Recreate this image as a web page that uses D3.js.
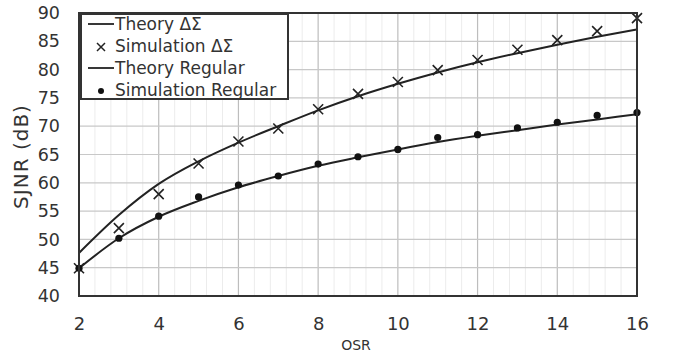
<!DOCTYPE html>
<html><head><meta charset="utf-8">
<script src="https://cdn.jsdelivr.net/npm/d3@7/dist/d3.min.js"></script>
<style>html,body{margin:0;padding:0;background:#fff;}svg{display:block;}</style>
</head><body><svg id="c" width="673" height="354"></svg>
<script>
const osr = [2,3,4,5,6,7,8,9,10,11,12,13,14,15,16];
const theoryDS = [47.6,54.3,59.8,63.8,67.1,70.0,72.8,75.3,77.5,79.5,81.3,82.9,84.4,85.8,87.1];
const simDS = [44.9,52.0,58.0,63.4,67.3,69.6,73.0,75.7,77.8,79.9,81.7,83.5,85.2,86.8,89.1];
const theoryReg = [44.9,50.2,54.0,56.8,59.2,61.2,63.0,64.5,65.9,67.2,68.3,69.3,70.3,71.2,72.1];
const simReg = [44.9,50.2,54.1,57.5,59.6,61.2,63.3,64.6,65.9,68.0,68.5,69.7,70.7,71.9,72.4];
const xTicks = [2,4,6,8,10,12,14,16];
const yTicks = [40,45,50,55,60,65,70,75,80,85,90];
const legendItems = [
  {label:"Theory ΔΣ", kind:"line"},
  {label:"Simulation ΔΣ", kind:"cross"},
  {label:"Theory Regular", kind:"line"},
  {label:"Simulation Regular", kind:"dot"}
];

const svg = d3.select("#c");
const L=79, R=637, T=13, B=296;
const x = d3.scaleLinear().domain([2,16]).range([L,R]);
const y = d3.scaleLinear().domain([40,90]).range([B,T]);
const font = "'DejaVu Sans', Verdana, sans-serif";
const txt = "#333";

// minor vertical grid
const minor = d3.range(2, 16.001, 0.4).filter(v => Math.abs(v/2 - Math.round(v/2)) > 0.01);
svg.append("g").selectAll("line").data(minor).join("line")
  .attr("x1", d=>x(d)).attr("x2", d=>x(d)).attr("y1", T).attr("y2", B)
  .attr("stroke", "#ececec").attr("stroke-width", 1);
// major grid
svg.append("g").selectAll("line").data(xTicks).join("line")
  .attr("x1", d=>x(d)).attr("x2", d=>x(d)).attr("y1", T).attr("y2", B)
  .attr("stroke", "#bdbdbd").attr("stroke-width", 1.2);
svg.append("g").selectAll("line").data(yTicks).join("line")
  .attr("x1", L).attr("x2", R).attr("y1", d=>y(d)).attr("y2", d=>y(d))
  .attr("stroke", "#c8c8c8").attr("stroke-width", 1.2);

// axes labels via d3 axes
const xAxis = svg.append("g").attr("transform", `translate(0,${B})`)
  .call(d3.axisBottom(x).tickValues(xTicks).tickSize(0).tickPadding(21));
xAxis.select(".domain").remove();
xAxis.selectAll("text").attr("font-family", font).attr("font-size", 18).attr("fill", txt);
const yAxis = svg.append("g").attr("transform", `translate(${L},0)`)
  .call(d3.axisLeft(y).tickValues(yTicks).tickSize(0).tickPadding(19));
yAxis.select(".domain").remove();
yAxis.selectAll("text").attr("font-family", font).attr("font-size", 17.5).attr("fill", txt);

svg.append("text").attr("x", (L+R)/2 - 2).attr("y", 350).attr("text-anchor","middle")
  .attr("font-family", font).attr("font-size", 14).attr("fill", txt).text("OSR");
svg.append("text").attr("transform", `translate(28,${(T+B)/2+2}) rotate(-90)`).attr("text-anchor","middle")
  .attr("font-family", font).attr("font-size", 20).attr("letter-spacing", 1).attr("fill", txt).text("SJNR (dB)");

// lines
const line = d3.line().x((d,i)=>x(osr[i])).y(d=>y(d)).curve(d3.curveMonotoneX);
svg.append("path").attr("d", line(theoryDS)).attr("fill","none").attr("stroke","#222").attr("stroke-width",2);
svg.append("path").attr("d", line(theoryReg)).attr("fill","none").attr("stroke","#222").attr("stroke-width",2);

// markers
const cs = 5;
const crossG = svg.append("g").selectAll("g").data(simDS).join("g")
  .attr("transform", (d,i)=>`translate(${x(osr[i])},${y(d)})`);
crossG.append("path").attr("d", `M${-cs},${-cs}L${cs},${cs}M${-cs},${cs}L${cs},${-cs}`)
  .attr("stroke","#222").attr("stroke-width",1.6).attr("fill","none");
svg.append("g").selectAll("circle").data(simReg).join("circle")
  .attr("cx",(d,i)=>x(osr[i])).attr("cy", d=>y(d)).attr("r",3.6).attr("fill","#111");

// frame
svg.append("rect").attr("x",L).attr("y",T).attr("width",R-L).attr("height",B-T)
  .attr("fill","none").attr("stroke","#333").attr("stroke-width",2);

// legend
const lg = svg.append("g");
lg.append("rect").attr("x",81).attr("y",14).attr("width",207).attr("height",85)
  .attr("fill","#fff").attr("stroke","#333").attr("stroke-width",2);
const rowY = [24,46,68,90];
legendItems.forEach((it,i)=>{
  const yy = rowY[i];
  if (it.kind==="line") {
    lg.append("line").attr("x1",88).attr("x2",114).attr("y1",yy).attr("y2",yy).attr("stroke","#222").attr("stroke-width",1.8);
  } else if (it.kind==="cross") {
    const c=4;
    lg.append("path").attr("d",`M${101-c},${yy-c+1}L${101+c},${yy+c+1}M${101-c},${yy+c+1}L${101+c},${yy-c+1}`)
      .attr("stroke","#222").attr("stroke-width",1.5);
  } else {
    lg.append("circle").attr("cx",101).attr("cy",yy+1).attr("r",3).attr("fill","#111");
  }
  lg.append("text").attr("x",115).attr("y",yy).attr("dy","0.35em")
    .attr("font-family",font).attr("font-size",17).attr("fill",txt).text(it.label);
});
</script></body></html>
